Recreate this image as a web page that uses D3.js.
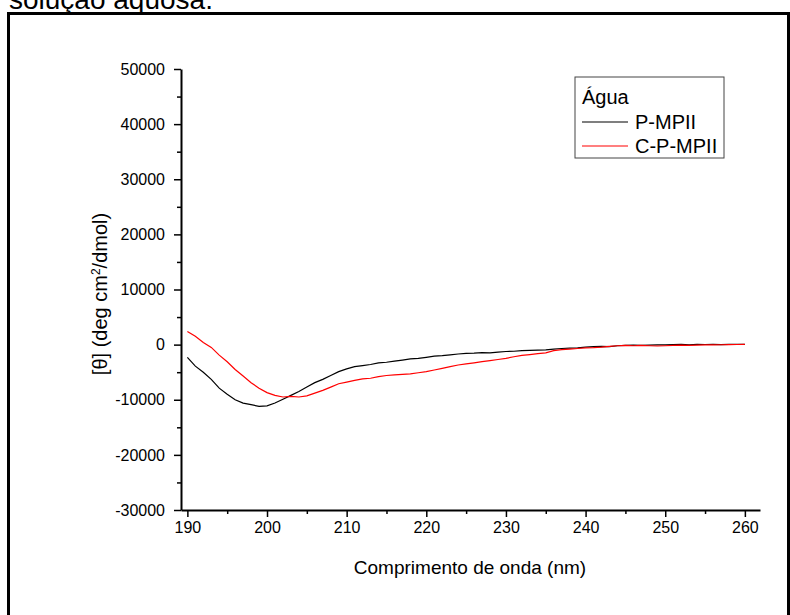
<!DOCTYPE html>
<html>
<head>
<meta charset="utf-8">
<script src="https://cdn.jsdelivr.net/npm/d3@7"></script>
<style>
  body { margin: 0; background: #fff; }
  text { font-family: "Liberation Sans", Arial, sans-serif; fill: #000; }
</style>
</head>
<body>
<div class="cd-chart"></div>
<script>
// wavelengths (nm), 1 nm step
const wavelengths = d3.range(190, 261, 1);

// P-MPII in water (black)
const pmpii = [
  -2300, -3900, -5000, -6300, -7900, -9000, -10000, -10600, -10900, -11200,
  -11100, -10600, -9900, -9200, -8500, -7700, -6900, -6300, -5600, -4900,
  -4400, -4000, -3800, -3600, -3300, -3200, -3000, -2800, -2600, -2500,
  -2300, -2100, -2000, -1850, -1700, -1600, -1550, -1450, -1500, -1350,
  -1250, -1200, -1100, -1050, -1000, -950, -800, -700, -650, -600,
  -450, -380, -300, -350, -200, -150, -100, -120, -80, -60,
  -30, 0, 40, -20, 30, 20, 30, 10, 40, 30,
  50
];

// C-P-MPII in water (red)
const cpmpii = [
  2400, 1500, 400, -500, -1900, -3100, -4500, -5700, -6900, -7900,
  -8700, -9200, -9500, -9400, -9500, -9300, -8800, -8300, -7700, -7100,
  -6800, -6500, -6200, -6100, -5800, -5600, -5500, -5400, -5300, -5100,
  -4900, -4600, -4300, -4000, -3700, -3500, -3300, -3100, -2900, -2700,
  -2500, -2200, -1950, -1800, -1650, -1500, -1100, -900, -800, -700,
  -600, -550, -450, -300, -200, -150, -200, -150, -200, -250,
  -200, -150, -100, -120, -80, -60, -40, -20, 0, 20,
  50
];

const xTicks = [190, 200, 210, 220, 230, 240, 250, 260];
const xMinor = [195, 205, 215, 225, 235, 245, 255];
const yTicks = [-30000, -20000, -10000, 0, 10000, 20000, 30000, 40000, 50000];
const yMinor = [-25000, -15000, -5000, 5000, 15000, 25000, 35000, 45000];

const seriesNames = ["P-MPII", "C-P-MPII"];
const seriesColors = ["#000000", "#ff0000"];

const width = 790, height = 615;

const svg = d3.select(".cd-chart").append("svg")
  .attr("width", width)
  .attr("height", height);

// caption cut off at top of the page
svg.append("text")
  .attr("x", 9).attr("y", 9)
  .style("font-size", "28px")
  .text("solução aquosa.");

// thick frame around the figure
svg.append("rect")
  .attr("x", 8.5).attr("y", 13.5)
  .attr("width", 780).attr("height", 700)
  .attr("fill", "none")
  .attr("stroke", "#000")
  .attr("stroke-width", 3);

const x = d3.scaleLinear().domain([189.2, 261.9]).range([181, 760]);
const y = d3.scaleLinear().domain([-30000, 50000]).range([510, 69]);

// x axis
svg.append("g")
  .attr("transform", "translate(0," + y(-30000) + ")")
  .call(d3.axisBottom(x).tickValues(xTicks).tickSize(7).tickPadding(5).tickSizeOuter(0));
svg.append("g")
  .attr("transform", "translate(0," + y(-30000) + ")")
  .call(d3.axisBottom(x).tickValues(xMinor).tickSize(4).tickFormat("").tickSizeOuter(0))
  .select(".domain").remove();

// y axis
svg.append("g")
  .attr("transform", "translate(" + x(189.2) + ",0)")
  .call(d3.axisLeft(y).tickValues(yTicks).tickSize(7).tickPadding(9).tickFormat(d => String(d)).tickSizeOuter(0));
svg.append("g")
  .attr("transform", "translate(" + x(189.2) + ",0)")
  .call(d3.axisLeft(y).tickValues(yMinor).tickSize(4).tickFormat("").tickSizeOuter(0))
  .select(".domain").remove();

svg.selectAll(".domain").attr("stroke-width", 2);
svg.selectAll(".tick line").attr("stroke-width", 1.5);
svg.selectAll(".tick text")
  .style("font-family", "'Liberation Sans', Arial, sans-serif")
  .style("font-size", "16px");

// axis titles
svg.append("text")
  .attr("x", 470)
  .attr("y", 574)
  .attr("text-anchor", "middle")
  .style("font-size", "19px")
  .text("Comprimento de onda (nm)");

const yTitle = svg.append("text")
  .attr("transform", "translate(107,294) rotate(-90)")
  .attr("text-anchor", "middle")
  .style("font-size", "20px");
yTitle.append("tspan").text("[θ] (deg cm");
yTitle.append("tspan").attr("dy", -7).style("font-size", "12px").text("2");
yTitle.append("tspan").attr("dy", 7).text("/dmol)");

// curves
const line = d3.line()
  .x((d, i) => x(wavelengths[i]))
  .y(d => y(d));

[pmpii, cpmpii].forEach((vals, i) => {
  svg.append("path")
    .datum(vals)
    .attr("fill", "none")
    .attr("stroke", seriesColors[i])
    .attr("stroke-width", 1.2)
    .attr("d", line);
});

// legend
const legend = svg.append("g").attr("transform", "translate(575,77)");
legend.append("rect")
  .attr("width", 149).attr("height", 81)
  .attr("fill", "#fff")
  .attr("stroke", "#444")
  .attr("stroke-width", 1);
legend.append("text")
  .attr("x", 7).attr("y", 27)
  .style("font-size", "20px")
  .text("Água");
seriesNames.forEach((name, i) => {
  const ly = 45 + i * 24;
  legend.append("line")
    .attr("x1", 7).attr("x2", 53)
    .attr("y1", ly).attr("y2", ly)
    .attr("stroke", seriesColors[i])
    .attr("stroke-width", 1.2);
  legend.append("text")
    .attr("x", 60).attr("y", ly + 7)
    .style("font-size", "20px")
    .text(name);
});
</script>
</body>
</html>
